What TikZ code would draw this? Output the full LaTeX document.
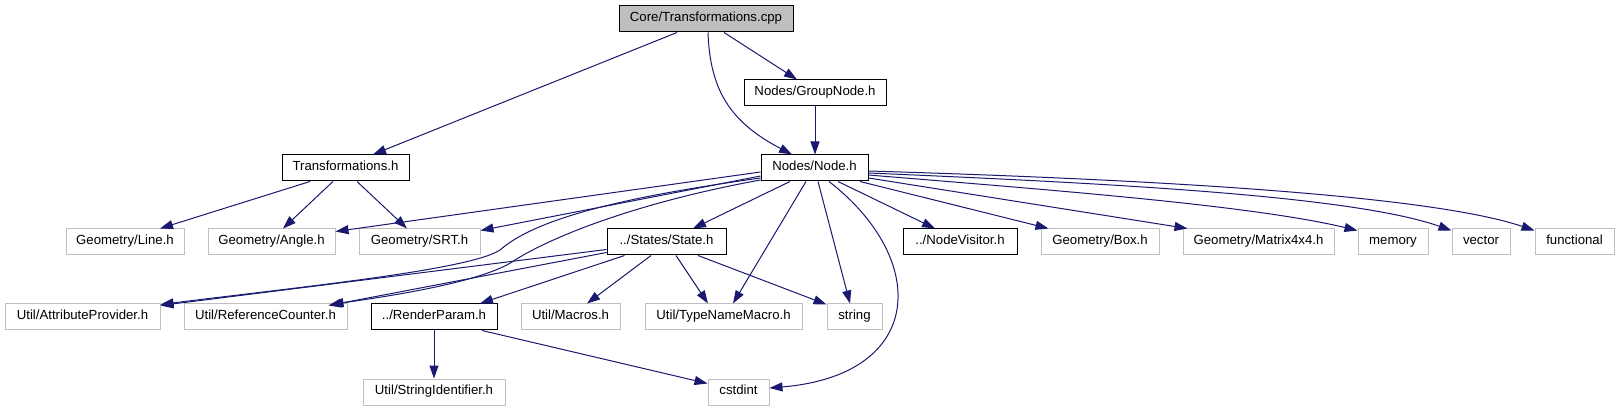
\documentclass[tikz,border=0pt]{standalone}
\usepackage{fontspec}
\setmainfont{Liberation Sans}
\usetikzlibrary{arrows.meta,calc}
\definecolor{edgec}{HTML}{191970}
\definecolor{greyb}{HTML}{BFBFBF}
\begin{document}
\begin{tikzpicture}[x=1pt,y=-1pt,
  nbox/.style={rectangle, draw, line width=1pt, inner sep=0pt, minimum height=26pt,
    text height=9.5pt, text depth=4pt, font=\fontsize{13.2}{15}\selectfont},
  doc/.style={nbox, draw=black},
  undoc/.style={nbox, draw=greyb},
  root/.style={nbox, draw=black, fill=greyb},
  dep/.style={draw=edgec, line width=1pt, -{Triangle[length=13pt,width=9pt]}}]
\fill[white, use as bounding box] (0,0) rectangle (1619,411);

\node[root, minimum width=174pt] (cpp) at (706,19) {Core/Transformations.cpp};
\node[doc, minimum width=142pt] (gn) at (815,93) {Nodes/GroupNode.h};
\node[doc, minimum width=127pt] (th) at (345.5,168) {Transformations.h};
\node[doc, minimum width=107pt] (nd) at (814.5,168) {Nodes/Node.h};
\node[undoc, minimum width=118pt] (line) at (125,242) {Geometry/Line.h};
\node[undoc, minimum width=127pt] (angle) at (271.5,242) {Geometry/Angle.h};
\node[undoc, minimum width=121pt] (srt) at (419.5,242) {Geometry/SRT.h};
\node[doc, minimum width=119pt] (state) at (666.5,242) {../States/State.h};
\node[doc, minimum width=114pt] (nv) at (960,242) {../NodeVisitor.h};
\node[undoc, minimum width=118pt] (gbox) at (1100,242) {Geometry/Box.h};
\node[undoc, minimum width=151pt] (mat) at (1258.5,242) {Geometry/Matrix4x4.h};
\node[undoc, minimum width=70pt] (mem) at (1393,242) {memory};
\node[undoc, minimum width=58pt] (vec) at (1481,242) {vector};
\node[undoc, minimum width=79pt] (fun) at (1574.5,242) {functional};
\node[undoc, minimum width=155pt] (attr) at (82.5,317) {Util/AttributeProvider.h};
\node[undoc, minimum width=163pt] (ref) at (265.5,317) {Util/ReferenceCounter.h};
\node[doc, minimum width=126pt] (rp) at (434,317) {../RenderParam.h};
\node[undoc, minimum width=99pt] (mac) at (570.5,317) {Util/Macros.h};
\node[undoc, minimum width=157pt] (tnm) at (723.5,317) {Util/TypeNameMacro.h};
\node[undoc, minimum width=55pt] (str) at (854.5,317) {string};
\node[undoc, minimum width=142pt] (sid) at (434,392) {Util/StringIdentifier.h};
\node[undoc, minimum width=61pt] (cst) at (738.5,392) {cstdint};

% from Core/Transformations.cpp
\draw[dep] ([xshift=-29pt]cpp.south) -- ([xshift=27.5pt]th.north);
\draw[dep] ([xshift=2pt]cpp.south) .. controls (710,90) and (730,122) .. ([xshift=-22.5pt]nd.north);
\draw[dep] ([xshift=18pt]cpp.south) -- ([xshift=-18pt]gn.north);
\draw[dep] (gn.south) -- (gn.south |- nd.north);

% from Transformations.h
\draw[dep] ([xshift=-35.5pt]th.south) -- ([xshift=35pt]line.north);
\draw[dep] ([xshift=-12.5pt]th.south) -- ([xshift=11.5pt]angle.north);
\draw[dep] ([xshift=11.5pt]th.south) -- ([xshift=-12.5pt]srt.north);

% from Nodes/Node.h
\draw[dep] ([yshift=-4pt]nd.west) -- ([yshift=-3pt]angle.north east);
\draw[dep] ([yshift=-8pt]nd.west) -- ([yshift=-2pt]srt.north east);
\draw[dep] ([yshift=-10pt]nd.west) .. controls (640,195) and (540,215) .. (500,250)
  .. controls (470,270) and (300,287) .. ([yshift=-1pt]attr.north east);
\draw[dep] ([yshift=-12pt]nd.west) .. controls (650,200) and (560,232) .. (515,260)
  .. controls (490,278) and (420,292) .. ([xshift=-17pt,yshift=-1pt]ref.north east);
\draw[dep] ([xshift=-24.5pt]nd.south) -- ([xshift=26.5pt]state.north);
\draw[dep] ([xshift=-8.5pt]nd.south) -- ([xshift=9.5pt]tnm.north);
\draw[dep] ([xshift=3.5pt]nd.south) -- ([xshift=-4.5pt]str.north);
\draw[dep] ([xshift=14.5pt]nd.south) .. controls (930,260) and (925,375) .. ([yshift=4pt]cst.east);
\draw[dep] ([xshift=23.5pt]nd.south) -- ([xshift=-25pt]nv.north);
\draw[dep] ([xshift=45.5pt]nd.south) -- ([xshift=8pt]gbox.north west);
\draw[dep] ([yshift=-10pt]nd.east) -- ([xshift=5pt]mat.north west);
\draw[dep] ([yshift=-7pt]nd.east) .. controls (1050,190) and (1250,205) .. ([yshift=-2pt]mem.north west);
\draw[dep] ([yshift=-5pt]nd.east) .. controls (1100,183) and (1350,195) .. ([yshift=-2pt]vec.north west);
\draw[dep] ([yshift=-3pt]nd.east) .. controls (1100,178) and (1420,192) .. ([yshift=-2pt]fun.north west);

% from ../States/State.h
\draw[dep] ([yshift=-7.5pt]state.west) -- ([yshift=-2pt]attr.north east);
\draw[dep] ([yshift=-10.5pt]state.west) -- ([xshift=-19pt,yshift=-2pt]ref.north east);
\draw[dep] ([xshift=18pt]state.south west) -- ([xshift=46pt]rp.north);
\draw[dep] ([xshift=-15.5pt]state.south) -- ([xshift=16.5pt]mac.north);
\draw[dep] ([xshift=9.5pt]state.south) -- ([xshift=-15.5pt]tnm.north);
\draw[dep] ([xshift=31.5pt]state.south) -- ([yshift=-1pt]str.north west);

% from ../RenderParam.h
\draw[dep] (rp.south) -- (sid.north);
\draw[dep] ([xshift=48pt]rp.south) -- ([yshift=-5pt]cst.north west);
\end{tikzpicture}
\end{document}
